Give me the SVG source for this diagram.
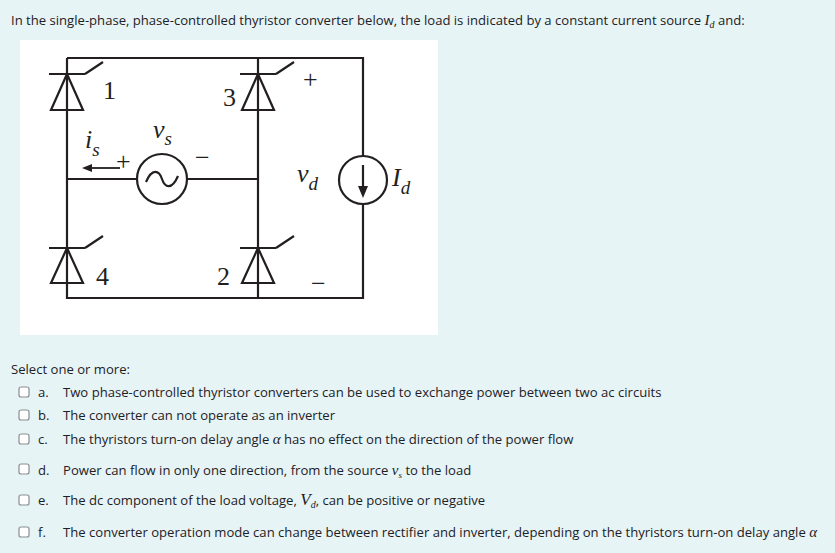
<svg xmlns="http://www.w3.org/2000/svg" width="835" height="553" viewBox="0 0 835 553">
<style>
.t{font-family:"Open Sans","DejaVu Sans",sans-serif;font-size:13.1px;fill:#1d2125}
.w{stroke:#231f20;stroke-width:2.2;fill:none}
.s{font-family:"Liberation Serif",serif;font-size:26px;fill:#231f20}
.i{font-family:"Liberation Serif",serif;font-size:26px;font-style:italic;fill:#231f20}
.cb{fill:#fff;stroke:#8a8d90;stroke-width:1.2}
</style>
<rect width="835" height="553" fill="#e7f4f6"/>
<rect x="20" y="40" width="418" height="295" fill="#fff"/>
<text class="t" x="11" y="25">In the single-phase, phase-controlled thyristor converter below, the load is indicated by a constant current source <tspan font-family="Liberation Serif" font-style="italic" font-size="15">I</tspan><tspan font-family="Liberation Serif" font-style="italic" font-size="10" dy="3">d</tspan><tspan dy="-3"> and:</tspan></text>
<g id="wires" class="w">
<path d="M67 58H363V156M363 204V298H67V58"/>
<path d="M258 58V298"/>
<path d="M67 179H137M187 179H258"/>
</g>
<g id="thyristors" class="w">
<path d="M49 74H85M67 74L51 110H83Z M85 74L103 62"/>
<path d="M240 74H276M258 74L242 110H274Z M276 74L294 62"/>
<path d="M49 248H85M67 248L51 283H83Z M85 248L103 236"/>
<path d="M240 248H276M258 248L242 283H274Z M276 248L294 236"/>
</g>
<g id="source">
<circle cx="162" cy="179" r="25" class="w" fill="#fff"/>
<path d="M146 182C152 168 159 170 162 179C165 188 172 190 178 176" class="w"/>
</g>
<g id="load">
<circle cx="363" cy="180" r="24" class="w" fill="#fff"/>
<path d="M363 165V192" class="w"/>
<path d="M358 186L363 198L368 186Z" fill="#231f20"/>
</g>
<g id="arrow">
<path d="M120 168H90" stroke="#231f20" stroke-width="1.8"/>
<path d="M92 164L82 168L92 172Z" fill="#231f20"/>
</g>
<g id="labels">
<text class="s" x="103" y="99">1</text>
<text class="s" x="223" y="106">3</text>
<text class="s" x="96" y="285">4</text>
<text class="s" x="217" y="285">2</text>
<text class="s" x="303" y="88">+</text>
<text class="s" x="311" y="292">−</text>
<text class="s" x="116" y="170">+</text>
<text class="s" x="195" y="166">−</text>
<text class="i" x="153" y="138">v<tspan font-size="19" dy="7">s</tspan></text>
<text class="i" x="85" y="148">i<tspan font-size="19" dy="8">s</tspan></text>
<text class="i" x="297" y="182">v<tspan font-size="19" dy="8">d</tspan></text>
<text class="i" x="392" y="186">I<tspan font-size="19" dy="8">d</tspan></text>
</g>
<text class="t" x="11" y="374">Select one or more:</text>
<g id="options">
<rect class="cb" x="19" y="387" width="10" height="10" rx="2"/>
<rect class="cb" x="19" y="410" width="10" height="10" rx="2"/>
<rect class="cb" x="19" y="434" width="10" height="10" rx="2"/>
<rect class="cb" x="19" y="464" width="10" height="10" rx="2"/>
<rect class="cb" x="19" y="495" width="10" height="10" rx="2"/>
<rect class="cb" x="19" y="527" width="10" height="10" rx="2"/>
<text class="t" x="38" y="397">a.</text><text class="t" x="63" y="397">Two phase-controlled thyristor converters can be used to exchange power between two ac circuits</text>
<text class="t" x="38" y="420">b.</text><text class="t" x="63" y="420">The converter can not operate as an inverter</text>
<text class="t" x="38" y="444">c.</text><text class="t" x="63" y="444">The thyristors turn-on delay angle <tspan font-family="Liberation Serif" font-style="italic" font-size="15">α</tspan> has no effect on the direction of the power flow</text>
<text class="t" x="38" y="475">d.</text><text class="t" x="63" y="475">Power can flow in only one direction, from the source <tspan font-family="Liberation Serif" font-style="italic" font-size="15">v</tspan><tspan font-family="Liberation Serif" font-style="italic" font-size="9" dy="3">s</tspan><tspan dy="-3"> to the load</tspan></text>
<text class="t" x="38" y="505">e.</text><text class="t" x="63" y="505">The dc component of the load voltage, <tspan font-family="Liberation Serif" font-style="italic" font-size="17">V</tspan><tspan font-family="Liberation Serif" font-style="italic" font-size="10" dy="3">d</tspan><tspan dy="-3">, can be positive or negative</tspan></text>
<text class="t" x="38" y="537">f.</text><text class="t" x="63" y="537">The converter operation mode can change between rectifier and inverter, depending on the thyristors turn-on delay angle <tspan font-family="Liberation Serif" font-style="italic" font-size="15">α</tspan></text>
</g>
</svg>
